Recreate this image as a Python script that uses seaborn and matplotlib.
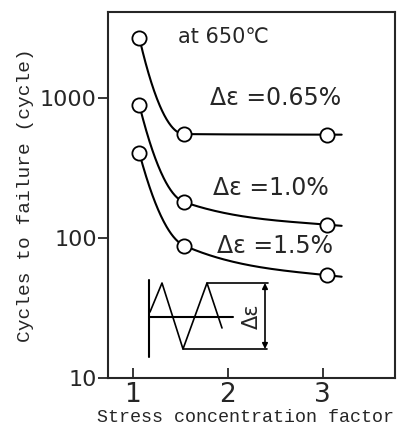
import numpy as np
import pandas as pd
import matplotlib
matplotlib.use("Agg")
import matplotlib.pyplot as plt
import seaborn as sns

# data
scf = [1.07, 1.54, 3.05]
n_065 = [2650, 550, 545]
n_10 = [880, 180, 124]
n_15 = [400, 88, 54]
labels = ["Δε =0.65%", "Δε =1.0%", "Δε =1.5%"]
x_end = 3.2

# inset waveform sketch (pixel-like coordinates of the little diagram)
wave_x = [150, 162, 183, 207, 222]
wave_y = [312, 283, 349, 283, 328]


def smooth_curve(x, y, x_stop, n=80):
    # monotone cubic hermite through the points in (x, log y)
    x = np.asarray(x, float)
    ly = np.log10(np.asarray(y, float))
    s = np.diff(ly) / np.diff(x)
    m = np.zeros(len(x))
    for i in range(1, len(x) - 1):
        if s[i - 1] * s[i] > 0:
            h0, h1 = x[i] - x[i - 1], x[i + 1] - x[i]
            w1, w2 = 2 * h1 + h0, h1 + 2 * h0
            m[i] = (w1 + w2) / (w1 / s[i - 1] + w2 / s[i])
    m[0] = 2 * s[0] - m[1]
    m[-1] = 0.5 * s[-1]
    xs, ys = [], []
    for i in range(len(x) - 1):
        h = x[i + 1] - x[i]
        t = np.linspace(0, 1, n)
        h00 = 2 * t**3 - 3 * t**2 + 1
        h10 = t**3 - 2 * t**2 + t
        h01 = -2 * t**3 + 3 * t**2
        h11 = t**3 - t**2
        xs.append(x[i] + t * h)
        ys.append(h00 * ly[i] + h10 * h * m[i] + h01 * ly[i + 1] + h11 * h * m[i + 1])
    xs.append(np.array([x_stop]))
    ys.append(np.array([ly[-1] + m[-1] * (x_stop - x[-1])]))
    return np.concatenate(xs), 10 ** np.concatenate(ys)


sns.set_style("ticks")
plt.rcParams["font.family"] = ["DejaVu Sans"]

fig = plt.figure(figsize=(4.1, 4.25), dpi=100)
ax = fig.add_axes([0.263, 0.111, 0.700, 0.861])

rows = []
for lab, series in zip(labels, [n_065, n_10, n_15]):
    cx, cy = smooth_curve(scf, series, x_end)
    rows.append(pd.DataFrame({"scf": cx, "N": cy, "case": lab}))
curves = pd.concat(rows, ignore_index=True)
pts = pd.DataFrame({
    "scf": scf * 3,
    "N": n_065 + n_10 + n_15,
    "case": [l for l in labels for _ in scf],
})

sns.lineplot(data=curves, x="scf", y="N", units="case", estimator=None,
             color="black", lw=1.5, ax=ax, sort=False)
sns.scatterplot(data=pts, x="scf", y="N", s=105, facecolor="white",
                edgecolor="black", linewidth=1.3, ax=ax, zorder=3)

ax.set_yscale("log")
ax.set_ylim(10, 4100)
ax.set_xlim(0.737, 3.76)
ax.set_xticks([1, 2, 3])
ax.set_xticklabels(["1", "2", "3"], fontsize=19)
ax.set_yticks([10, 100, 1000])
ax.set_yticklabels(["10", "100", "1000"], fontsize=16)
ax.yaxis.set_minor_locator(matplotlib.ticker.NullLocator())
ax.tick_params(axis="x", direction="in", length=7, width=1.3, pad=3)
ax.tick_params(axis="y", direction="out", length=7, width=1.3, pad=1)
for sp in ax.spines.values():
    sp.set_linewidth(1.5)
    sp.set_visible(True)

ax.set_xlabel("Stress concentration factor", family="Liberation Mono",
              fontsize=13.2, labelpad=2)
ax.xaxis.set_label_coords(0.48, -0.085)
ax.set_ylabel("Cycles to failure (cycle)", family="Liberation Mono",
              fontsize=14, labelpad=4)

ax.text(0.245, 0.915, "at 650℃", transform=ax.transAxes, fontsize=15)
ax.text(0.355, 0.745, labels[0], transform=ax.transAxes, fontsize=17)
ax.text(0.365, 0.50, labels[1], transform=ax.transAxes, fontsize=17)
ax.text(0.38, 0.34, labels[2], transform=ax.transAxes, fontsize=17)

# inset strain waveform sketch
ins = fig.add_axes([140 / 410, 1 - 362 / 425, 140 / 410, 87 / 425])
ins.set_xlim(140, 280)
ins.set_ylim(362, 275)
ins.axis("off")
ins.plot([149, 149], [280, 357], color="black", lw=1.5)
ins.plot([149, 233], [317, 317], color="black", lw=1.5)
ins.plot(wave_x, wave_y, color="black", lw=1.2)
ins.plot([207, 268], [283, 283], color="black", lw=1.2)
ins.plot([183, 267], [349, 349], color="black", lw=1.2)
ins.annotate("", xy=(265, 283), xytext=(265, 349),
             arrowprops=dict(arrowstyle="<|-|>", color="black", lw=1.2,
                             mutation_scale=8, shrinkA=0, shrinkB=0))
ins.text(252, 316, "Δε", rotation=90, fontsize=15, ha="center", va="center")

fig.savefig("out.png", dpi=100)
